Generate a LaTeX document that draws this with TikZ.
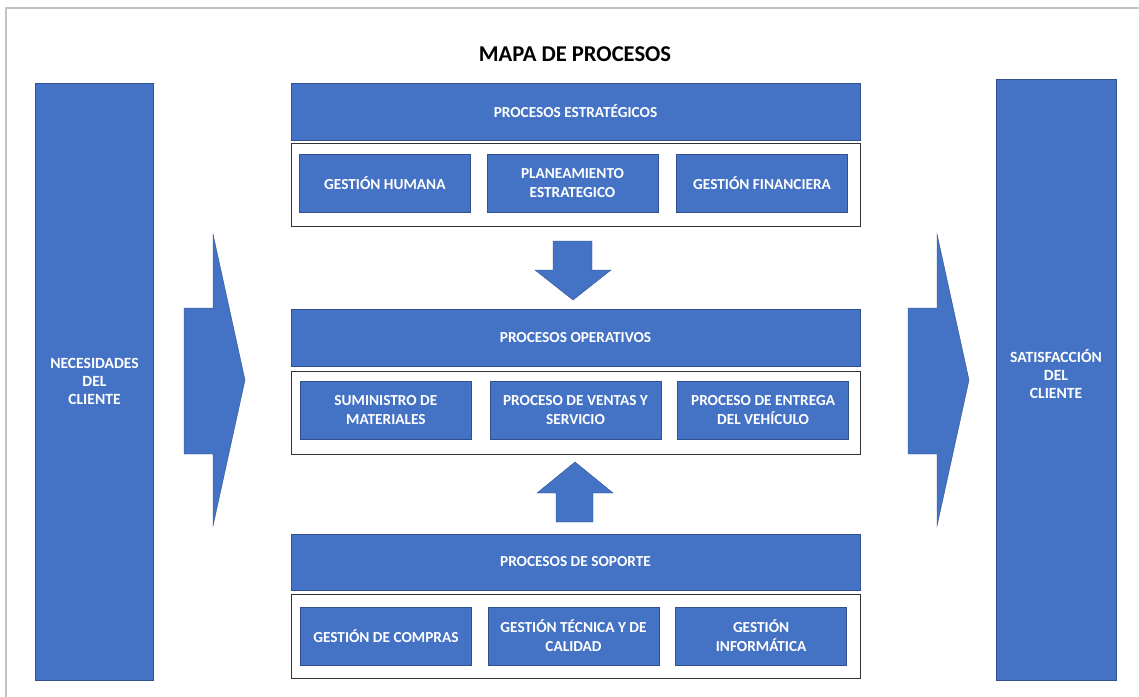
\documentclass[tikz,border=0pt]{standalone}
\usepackage{fontspec}
\setmainfont{Carlito}
\definecolor{officeBlue}{RGB}{68,114,196}
\definecolor{officeBlueDark}{RGB}{47,82,143}
\definecolor{pageGray}{RGB}{195,195,195}
\usetikzlibrary{positioning}

\tikzset{
  bluebox/.style={rectangle, draw=officeBlueDark, line width=0.6pt, fill=officeBlue, text=white, align=center, inner sep=0pt, font=\bfseries\fontsize{15.3}{19}\selectfont},
  header/.style={bluebox, minimum width=569pt, minimum height=57pt},
  subbox/.style={bluebox, minimum width=171pt, minimum height=58pt},
  groupframe/.style={rectangle, draw=black!80, line width=1pt, minimum width=569pt, minimum height=83pt},
  sidebar/.style={bluebox, minimum width=118pt, font=\bfseries\fontsize{15.6}{18}\selectfont},
  blockarrow/.style={fill=officeBlue, draw=officeBlueDark, line width=0.4pt},
}

\begin{document}
\begin{tikzpicture}[x=1pt, y=-1pt]
    \useasboundingbox (0,0) rectangle (1139,696);
    % page frame
    \draw[pageGray, line width=2pt] (5.5,700) -- (5.5,7.5) -- (1145,7.5);

    \node[font=\bfseries\fontsize{22.6}{26}\selectfont] (title) at (575,54) {MAPA DE PROCESOS};

    % side columns
    \node[sidebar, minimum height=597pt] (need) at (94.5,381.5) {NECESIDADES\\DEL\\CLIENTE};
    \node[sidebar, minimum height=601pt, minimum width=120pt] (satis) at (1056,379.5) {\raisebox{3pt}[\height][\depth]{\begin{tabular}{@{}c@{}}SATISFACCIÓN\\DEL\\CLIENTE\end{tabular}}};

    % strategic processes
    \node[header] (estr) at (575.5,111.5) {PROCESOS ESTRATÉGICOS};
    \node[groupframe, below=3pt of estr] (estrframe) {};
    \node[subbox] (plan) at ([xshift=-3pt, yshift=2pt]estrframe.center) {PLANEAMIENTO\\ESTRATEGICO};
    \node[subbox, left=16pt of plan] (human) {GESTIÓN HUMANA};
    \node[subbox, right=18pt of plan] (finan) {GESTIÓN FINANCIERA};

    % operative processes
    \node[header] (oper) at (575.5,337.5) {PROCESOS OPERATIVOS};
    \node[groupframe, below=5pt of oper] (operframe) {};
    \node[subbox] (ventas) at ([yshift=3pt]operframe.center) {PROCESO DE VENTAS Y\\SERVICIO};
    \node[subbox, left=18pt of ventas] (sumin) {SUMINISTRO DE\\MATERIALES};
    \node[subbox, right=16pt of ventas] (entrega) {PROCESO DE ENTREGA\\DEL VEHÍCULO};

    % support processes
    \node[header, minimum height=56pt] (sop) at (575.5,562) {PROCESOS DE SOPORTE};
    \node[groupframe, minimum height=84pt, below=4pt of sop] (sopframe) {};
    \node[subbox] (tecnica) at ([xshift=-2pt, yshift=1pt]sopframe.center) {GESTIÓN TÉCNICA Y DE\\CALIDAD};
    \node[subbox, left=16pt of tecnica] (compras) {GESTIÓN DE COMPRAS};
    \node[subbox, right=16pt of tecnica] (informa) {GESTIÓN\\INFORMÁTICA};

    % block arrows
    \filldraw[blockarrow] (184,308) -- (213,308) -- (213,234) -- (245,380) -- (213,526) -- (213,454) -- (184,454) -- cycle;
    \filldraw[blockarrow] (908,308) -- (937,308) -- (937,234) -- (969,380) -- (937,526) -- (937,454) -- (908,454) -- cycle;
    \filldraw[blockarrow] (553,241) -- (592,241) -- (592,270) -- (611,270) -- (573,300) -- (535,270) -- (553,270) -- cycle;
    \filldraw[blockarrow] (556,522) -- (593,522) -- (593,493) -- (613,493) -- (575,462) -- (537,493) -- (556,493) -- cycle;
\end{tikzpicture}
\end{document}
